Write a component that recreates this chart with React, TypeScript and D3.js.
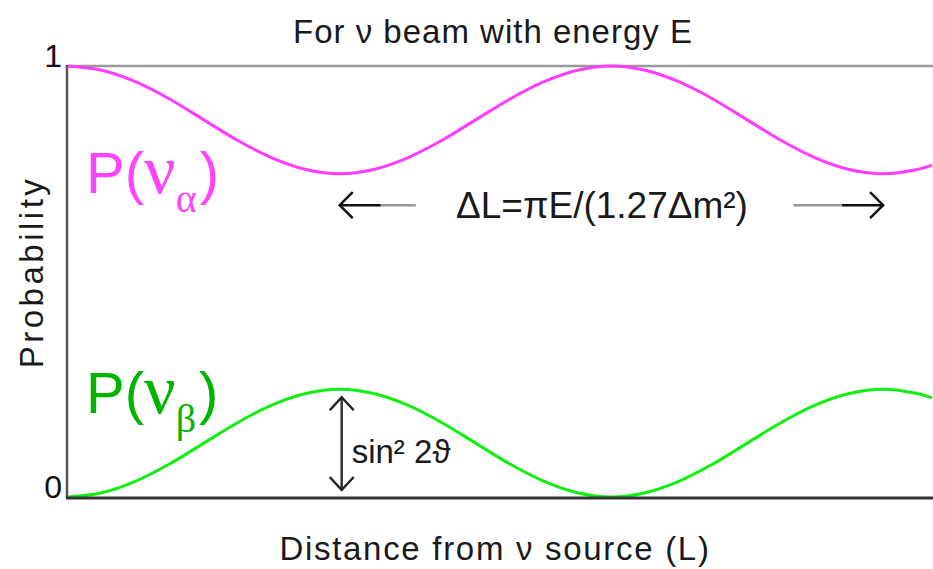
import React, { useRef, useEffect } from "react";
import * as d3 from "d3";

// distance in units of half an oscillation length
const distance = [
  0, 0.125, 0.25, 0.375, 0.5, 0.625, 0.75, 0.875, 1, 1.125, 1.25, 1.375, 1.5,
  1.625, 1.75, 1.875, 2, 2.125, 2.25, 2.375, 2.5, 2.625, 2.75, 2.875, 3, 3.125,
  3.18,
];
const probAlpha = [
  1, 0.99, 0.963, 0.923, 0.875, 0.827, 0.787, 0.76, 0.75, 0.76, 0.787, 0.827,
  0.875, 0.923, 0.963, 0.99, 1, 0.99, 0.963, 0.923, 0.875, 0.827, 0.787, 0.76,
  0.75, 0.76, 0.77,
];
const probBeta = [
  0, 0.01, 0.037, 0.077, 0.125, 0.173, 0.213, 0.24, 0.25, 0.24, 0.213, 0.173,
  0.125, 0.077, 0.037, 0.01, 0, 0.01, 0.037, 0.077, 0.125, 0.173, 0.213, 0.24,
  0.25, 0.24, 0.23,
];
const yTicks = [0, 1];
const yTickLabels = ["0", "1"];

// annotations (data units)
const deltaArrows = [
  { from: 1.28, to: 1.0 },
  { from: 2.67, to: 3.0 },
];
const deltaArrowLevel = 0.677;
const mixingAt = 1.0;
const mixingAmp = 0.25;

const W = 933;
const H = 569;
const FONT = "'Liberation Sans', Arial, sans-serif";
const SERIF = "'Liberation Serif', 'Times New Roman', serif";

const App = () => {
  const svgRef = useRef(null);

  useEffect(() => {
    const svg = d3.select(svgRef.current);
    svg.selectAll("*").remove();

    const x = d3.scaleLinear().domain([0, 3.18]).range([68, 932]);
    const y = d3.scaleLinear().domain([0, 1]).range([497, 66]);

    // frame
    svg.append("line")
      .attr("x1", x(0)).attr("x2", W)
      .attr("y1", y(1)).attr("y2", y(1))
      .attr("stroke", "#9a9a9a").attr("stroke-width", 2.5);
    svg.append("line")
      .attr("x1", x(0) - 1).attr("x2", x(0) - 1)
      .attr("y1", y(1) - 1).attr("y2", y(0) + 1)
      .attr("stroke", "#555").attr("stroke-width", 2.5);

    // curves
    const line = (vals) =>
      d3.line()
        .x((d, i) => x(distance[i]))
        .y((d) => y(d))
        .curve(d3.curveCatmullRom)(vals);

    svg.append("path")
      .attr("d", line(probAlpha))
      .attr("fill", "none")
      .attr("stroke", "#ff3cff")
      .attr("stroke-width", 3);
    svg.append("path")
      .attr("d", line(probBeta))
      .attr("fill", "none")
      .attr("stroke", "#10f010")
      .attr("stroke-width", 3);

    svg.append("line")
      .attr("x1", x(0) - 2).attr("x2", W)
      .attr("y1", y(0) + 1).attr("y2", y(0) + 1)
      .attr("stroke", "#333").attr("stroke-width", 3);

    // tick labels
    svg.append("g")
      .selectAll("text")
      .data(yTicks)
      .enter()
      .append("text")
      .attr("x", 62)
      .attr("y", (d) => y(d) + 1)
      .attr("text-anchor", "end")
      .attr("font-family", FONT)
      .attr("font-size", 32)
      .attr("fill", "#111")
      .text((d, i) => yTickLabels[i]);

    // title + axis labels
    svg.append("text")
      .attr("x", 493).attr("y", 43)
      .attr("text-anchor", "middle")
      .attr("font-family", FONT).attr("font-size", 33)
      .attr("letter-spacing", 1)
      .attr("fill", "#1a1a1a")
      .text("For ν beam with energy E");

    svg.append("text")
      .attr("x", 495).attr("y", 560)
      .attr("text-anchor", "middle")
      .attr("font-family", FONT).attr("font-size", 33)
      .attr("letter-spacing", 1.7)
      .attr("fill", "#1a1a1a")
      .text("Distance from ν source (L)");

    svg.append("text")
      .attr("transform", "translate(43,272) rotate(-90)")
      .attr("text-anchor", "middle")
      .attr("font-family", FONT).attr("font-size", 33)
      .attr("letter-spacing", 3.5)
      .attr("fill", "#1a1a1a")
      .text("Probability");

    // series labels
    const seriesLabel = (yy, sub, color) => {
      const t = svg.append("text")
        .attr("x", 86).attr("y", yy)
        .attr("fill", color);
      t.append("tspan").attr("font-family", FONT).attr("font-size", 58).text("P(");
      t.append("tspan").attr("font-family", SERIF).attr("font-size", 70).text("ν");
      t.append("tspan").attr("font-family", SERIF).attr("font-size", 40)
        .attr("dy", 19).text(sub);
      t.append("tspan").attr("font-family", FONT).attr("font-size", 58)
        .attr("dx", 3).attr("dy", -19).text(")");
    };
    seriesLabel(193, "α", "#ff44ff");
    seriesLabel(413, "β", "#00b400");

    // ΔL arrows
    const ay = y(deltaArrowLevel);
    deltaArrows.forEach((a) => {
      const dir = Math.sign(a.to - a.from);
      const head = x(a.to);
      const tail = x(a.from);
      const mid = head - dir * 41;
      svg.append("line")
        .attr("x1", tail).attr("x2", mid).attr("y1", ay).attr("y2", ay)
        .attr("stroke", "#999").attr("stroke-width", 2.5);
      svg.append("line")
        .attr("x1", mid).attr("x2", head).attr("y1", ay).attr("y2", ay)
        .attr("stroke", "#111").attr("stroke-width", 2.5);
      svg.append("path")
        .attr("d", `M${head - dir * 13},${ay - 13}L${head},${ay}L${head - dir * 13},${ay + 13}`)
        .attr("fill", "none").attr("stroke", "#111").attr("stroke-width", 2.5);
    });

    svg.append("text")
      .attr("x", 602).attr("y", 218)
      .attr("text-anchor", "middle")
      .attr("font-family", FONT).attr("font-size", 37)
      .attr("fill", "#1a1a1a")
      .text("ΔL=πE/(1.27Δm²)");

    // sin² 2θ arrow
    const mx = x(mixingAt) + 2;
    const top = y(mixingAmp) + 8;
    const bot = y(0) - 7;
    svg.append("line")
      .attr("x1", mx).attr("x2", mx).attr("y1", top).attr("y2", bot)
      .attr("stroke", "#333").attr("stroke-width", 2.5);
    svg.append("path")
      .attr("d", `M${mx - 12},${top + 13}L${mx},${top}L${mx + 12},${top + 13}M${mx - 12},${bot - 13}L${mx},${bot}L${mx + 12},${bot - 13}`)
      .attr("fill", "none").attr("stroke", "#222").attr("stroke-width", 2.5);

    svg.append("text")
      .attr("x", mx + 10).attr("y", 463)
      .attr("font-family", FONT).attr("font-size", 33)
      .attr("fill", "#1a1a1a")
      .text("sin² 2ϑ");
  }, []);

  return (
    <div style={{ position: "absolute", left: 0, top: 0 }}>
      <svg ref={svgRef} width={W} height={H} style={{ display: "block", background: "#fff" }}></svg>
    </div>
  );
};

export default App;
